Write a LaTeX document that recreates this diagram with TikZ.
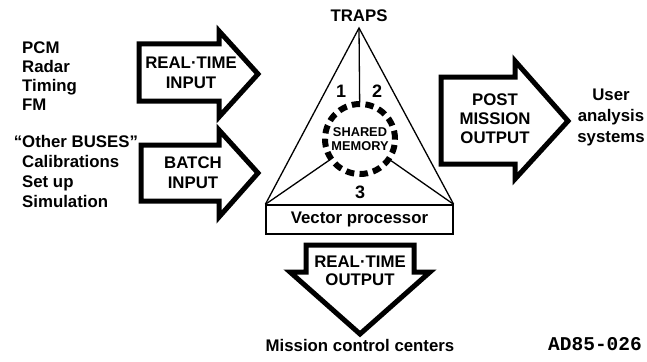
\documentclass[tikz,border=0pt]{standalone}
\usepackage{fontspec}
\setmainfont{Liberation Sans}
\setmonofont{Liberation Mono}
\begin{document}
\begin{tikzpicture}[x=1pt,y=-1pt,
  lbl/.style={font=\bfseries\fontsize{16.8}{19.5}\selectfont, inner sep=0pt, anchor=base, align=center},
  listlbl/.style={lbl, anchor=base west, align=left},
  num/.style={font=\bfseries\fontsize{18}{20}\selectfont, inner sep=0pt, anchor=base},
  bigarrow/.style={draw=black, line width=5pt, line join=miter, fill=white},
  thin/.style={draw=black, line width=1.3pt},
  memring/.style={circle, draw=black, line width=6pt, dash pattern=on 8.4pt off 5.3pt, minimum size=70pt, inner sep=0pt,
    font=\bfseries\fontsize{12.8}{14}\selectfont, align=center}
]
\useasboundingbox (0,0) rectangle (647,361);

% left source lists (anchor = baseline of last line)
\node[listlbl, font=\bfseries\fontsize{16.8}{19}\selectfont] (src1) at (22,110) {PCM\\Radar\\Timing\\FM};
\node[listlbl, font=\bfseries\fontsize{16.8}{20}\selectfont] (src2) at (22,207) {\llap{“}Other BUSES”\\Calibrations\\Set up\\Simulation};

% input arrows
\draw[bigarrow] (139,44) -- (219,44) -- (219,31) -- (258,74) -- (219,117) -- (219,101) -- (139,101) -- cycle;
\node[lbl, font=\bfseries\fontsize{16.8}{20}\selectfont] (rtin) at (191,88) {REAL·TIME\\INPUT};
\draw[bigarrow] (141,145) -- (219,145) -- (219,130) -- (258,173) -- (219,217) -- (219,201) -- (141,201) -- cycle;
\node[lbl, font=\bfseries\fontsize{16.8}{20}\selectfont] (bin) at (193,188) {BATCH\\INPUT};

% triangle and processor
\node[thin, minimum width=187pt, minimum height=29pt, inner sep=0pt, font=\bfseries\fontsize{16.8}{19}\selectfont] (vp) at (359.5,219.5) {Vector processor};
\coordinate (apex) at (359,28);
\node[lbl] (traps) at (359,22) {TRAPS};
\draw[thin, line join=miter] (vp.north west) -- (apex) -- (vp.north east);
\node[memring] (mem) at (360,139) {SHARED\\MEMORY};
\draw[thin] (apex) -- (mem);
\draw[thin] (vp.north west) -- (mem);
\draw[thin] (vp.north east) -- (mem);
\node[num] (n1) at (341,97) {1};
\node[num] (n2) at (377,97) {2};
\node[num] (n3) at (360,198) {3};

% post mission output
\draw[bigarrow] (441,77) -- (515,77) -- (515,61) -- (568,121) -- (515,179) -- (515,164) -- (441,164) -- cycle;
\node[lbl, font=\bfseries\fontsize{16.8}{19}\selectfont] (pmo) at (495,143) {POST\\MISSION\\OUTPUT};
\node[lbl, font=\bfseries\fontsize{16.8}{21}\selectfont] (user) at (611,142) {User\\analysis\\systems};

% real-time output
\draw[bigarrow] (306,245) -- (414,245) -- (414,272) -- (430,272) -- (360,334) -- (290,272) -- (306,272) -- cycle;
\node[lbl, font=\bfseries\fontsize{16.8}{18}\selectfont] (rto) at (360,285) {REAL·TIME\\OUTPUT};
\node[lbl] (mcc) at (360,351) {Mission control centers};

% figure id
\node[inner sep=0pt, anchor=base west, font=\ttfamily\bfseries\fontsize{19.5}{22}\selectfont] (fid) at (548,350) {AD85-026};
\end{tikzpicture}
\end{document}
